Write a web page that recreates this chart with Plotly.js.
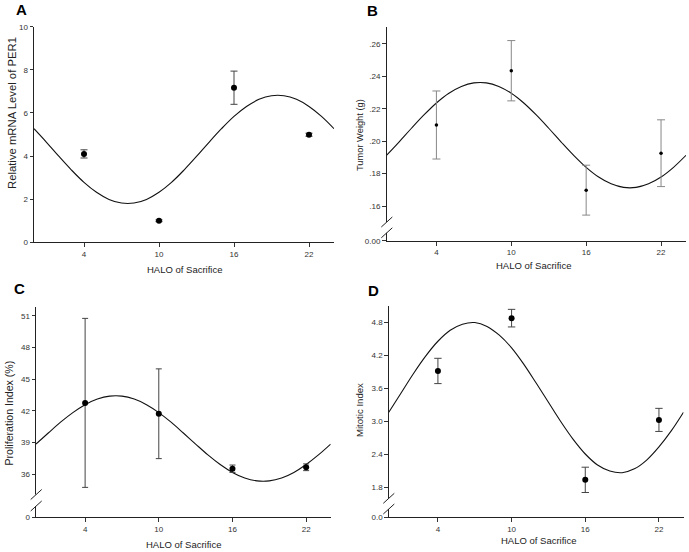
<!DOCTYPE html>
<html>
<head>
<meta charset="utf-8">
<script src="https://cdn.plot.ly/plotly-3.0.1.min.js"></script>
<style>html,body{margin:0;padding:0;background:#fff;}#chart{width:689px;height:552px;}</style>
</head>
<body>
<div id="chart"></div>
<script>
// ---------- data ----------
const hours = [4, 10, 16, 22];
const hourLabels = ['4', '10', '16', '22'];
const curveHours = [0,1,2,3,4,5,6,7,8,9,10,11,12,13,14,15,16,17,18,19,20,21,22,23,24];

// A: Relative mRNA level of PER1
const perMean = [4.10, 1.00, 7.17, 4.99];
const perErr  = [0.19, 0.04, 0.77, 0.07];
const perCurve = [5.27,4.64,3.98,3.35,2.78,2.32,1.99,1.82,1.82,1.99,2.32,2.78,3.35,3.98,4.64,5.27,5.84,6.30,6.63,6.80,6.80,6.63,6.30,5.84,5.27];
const perTicks = [0, 2, 4, 6, 8, 10];
const perTickText = ['0', '2', '4', '6', '8', '10'];

// B: Tumor weight (g)
const weightMean = [0.2100, 0.2435, 0.1698, 0.1926];
const weightErr  = [0.0210, 0.0186, 0.0154, 0.0206];
const weightCurve = [.1913,.1995,.2080,.2162,.2236,.2296,.2338,.2360,.2360,.2338,.2296,.2236,.2162,.2080,.1995,.1913,.1839,.1779,.1737,.1715,.1715,.1737,.1779,.1839,.1913];
const weightTicks = [0.16, 0.18, 0.20, 0.22, 0.24, 0.26];
const weightTickText = ['.16', '.18', '.20', '.22', '.24', '.26'];
const weightZeroText = '0.00';

// C: Proliferation index (%)
const prolifMean = [42.75, 41.72, 36.50, 36.64];
const prolifErr  = [8.02, 4.26, 0.35, 0.32];
const prolifCurve = [38.84,39.89,40.92,41.83,42.58,43.11,43.39,43.39,43.11,42.58,41.83,40.92,39.89,38.84,37.81,36.90,36.15,35.62,35.35,35.35,35.62,36.15,36.90,37.81,38.84];
const prolifTicks = [36, 39, 42, 45, 48, 51];
const prolifTickText = ['36', '39', '42', '45', '48', '51'];
const prolifZeroText = '0';

// D: Mitotic index
const mitoticMean = [3.91, 4.87, 1.93, 3.02];
const mitoticErr  = [0.23, 0.16, 0.23, 0.21];
const mitoticCurve = [3.16,3.51,3.86,4.18,4.45,4.65,4.76,4.79,4.72,4.56,4.33,4.03,3.69,3.34,2.99,2.67,2.40,2.20,2.09,2.06,2.13,2.29,2.53,2.82,3.16];
const mitoticTicks = [1.8, 2.4, 3.0, 3.6, 4.2, 4.8];
const mitoticTickText = ['1.8', '2.4', '3.0', '3.6', '4.2', '4.8'];
const mitoticZeroText = '0.0';

// ---------- layout helpers ----------
const W = 689, H = 552;
const px = v => v / W;
const py = v => 1 - v / H;
const FONT = 'Liberation Sans, Arial, sans-serif';
const tickFont = {family: FONT, size: 8, color: '#333'};

function curveTrace(y, xa, ya) {
  return {x: curveHours, y: y, xaxis: xa, yaxis: ya, type: 'scatter', mode: 'lines',
    line: {color: '#111', width: 1.1, shape: 'spline'}, hoverinfo: 'skip', showlegend: false};
}
function pointTrace(y, err, xa, ya, size, errColor, capW) {
  return {x: hours, y: y, xaxis: xa, yaxis: ya, type: 'scatter', mode: 'markers',
    marker: {color: '#000', size: size},
    error_y: {type: 'data', array: err, visible: true, color: errColor, thickness: 1, width: capW},
    showlegend: false};
}
function xAxis(d0, d1, anchor) {
  return {domain: [px(d0), px(d1)], range: [0, 24], anchor: anchor,
    tickmode: 'array', tickvals: hours, ticktext: hourLabels,
    ticks: 'outside', ticklen: 4, tickwidth: 1, tickcolor: '#333',
    showline: true, linecolor: '#222', linewidth: 1, showgrid: false, zeroline: false,
    tickfont: tickFont, fixedrange: true};
}
function yAxis(t0, t1, range, vals, text, anchor) {
  return {domain: [py(t1), py(t0)], range: range, anchor: anchor,
    tickmode: 'array', tickvals: vals, ticktext: text,
    ticks: 'outside', ticklen: 3.5, tickwidth: 1, tickcolor: '#333',
    showline: true, linecolor: '#222', linewidth: 1, showgrid: false, zeroline: false,
    tickfont: tickFont, fixedrange: true};
}

// broken-axis virtual positions of the "0" tick
const weightZero = 0.1386, prolifZero = 31.89, mitoticZero = 1.249;

const data = [
  curveTrace(perCurve, 'x', 'y'),
  pointTrace(perMean, perErr, 'x', 'y', 6, '#444', 3.5),
  curveTrace(weightCurve, 'x2', 'y2'),
  pointTrace(weightMean, weightErr, 'x2', 'y2', 3.5, '#888', 4),
  curveTrace(prolifCurve, 'x3', 'y3'),
  pointTrace(prolifMean, prolifErr, 'x3', 'y3', 6, '#444', 3),
  curveTrace(mitoticCurve, 'x4', 'y4'),
  pointTrace(mitoticMean, mitoticErr, 'x4', 'y4', 6, '#444', 3.7)
];

function breakShapes(ax, yUp, yLo) {
  const s = [];
  s.push({type: 'rect', xref: 'paper', yref: 'paper', layer: 'above',
    x0: px(ax - 2), x1: px(ax + 2), y0: py(yLo), y1: py(yUp),
    line: {width: 0}, fillcolor: '#fff'});
  [yUp, yLo].forEach(c => {
    s.push({type: 'line', xref: 'paper', yref: 'paper', layer: 'above',
      x0: px(ax - 5.5), y0: py(c + 5), x1: px(ax + 5.5), y1: py(c - 5),
      line: {color: '#222', width: 1}});
  });
  return s;
}

function ann(text, x, y, size, opts) {
  return Object.assign({text: text, x: px(x), y: py(y), xref: 'paper', yref: 'paper',
    showarrow: false, xanchor: 'center', yanchor: 'middle',
    font: {family: FONT, size: size, color: '#222'}}, opts || {});
}

const layout = {
  width: W, height: H, margin: {l: 0, r: 0, t: 0, b: 0},
  paper_bgcolor: '#fff', plot_bgcolor: '#fff', showlegend: false,
  xaxis: xAxis(34, 334, 'y'),
  yaxis: yAxis(26.7, 242.3, [0, 10], perTicks, perTickText, 'x'),
  xaxis2: xAxis(386.5, 686, 'y2'),
  yaxis2: yAxis(27.3, 240.7, [weightZero, 0.2703], [weightZero].concat(weightTicks), [weightZeroText].concat(weightTickText), 'x2'),
  xaxis3: xAxis(36, 330.7, 'y3'),
  yaxis3: yAxis(306.7, 517.3, [prolifZero, 51.88], [prolifZero].concat(prolifTicks), [prolifZeroText].concat(prolifTickText), 'x3'),
  xaxis4: xAxis(388.8, 683.5, 'y4'),
  yaxis4: yAxis(306, 517.3, [mitoticZero, 5.091], [mitoticZero].concat(mitoticTicks), [mitoticZeroText].concat(mitoticTickText), 'x4'),
  shapes: [].concat(
    breakShapes(386.8, 222, 232.8),
    breakShapes(36.2, 494.5, 506),
    breakShapes(388.8, 498.3, 509)
  ),
  annotations: [
    ann('<b>A</b>', 21, 10, 15, {font: {family: FONT, size: 15, color: '#000'}}),
    ann('<b>B</b>', 372, 10.5, 15, {font: {family: FONT, size: 15, color: '#000'}}),
    ann('<b>C</b>', 19, 288, 15, {font: {family: FONT, size: 15, color: '#000'}}),
    ann('<b>D</b>', 373, 290, 15, {font: {family: FONT, size: 15, color: '#000'}}),
    ann('HALO of Sacrifice', 185, 269, 9.5),
    ann('HALO of Sacrifice', 534, 265, 9.5),
    ann('HALO of Sacrifice', 184, 544, 9.5),
    ann('HALO of Sacrifice', 539, 540.5, 9.5),
    ann('Relative mRNA Level of PER1', 12, 113, 11.3, {textangle: -90}),
    ann('Tumor Weight (g)', 360, 135, 9.3, {textangle: -90}),
    ann('Proliferation Index (%)', 8.5, 413, 10.6, {textangle: -90}),
    ann('Mitotic Index', 359, 410, 9.6, {textangle: -90})
  ]
};

Plotly.newPlot('chart', data, layout, {staticPlot: true, displayModeBar: false});
</script>
</body>
</html>
